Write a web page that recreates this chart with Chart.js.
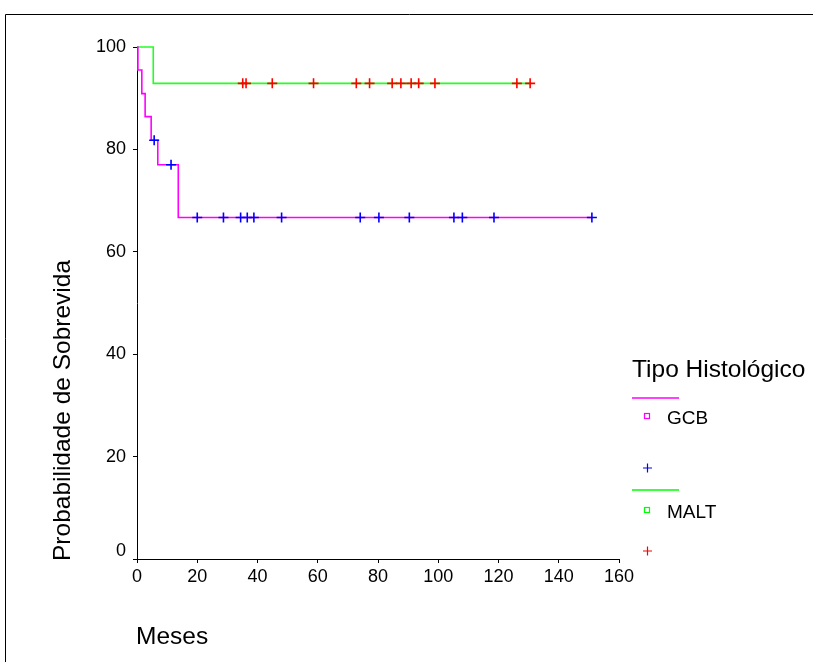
<!DOCTYPE html>
<html>
<head>
<meta charset="utf-8">
<script src="https://cdn.jsdelivr.net/npm/chart.js@4.4.1/dist/chart.umd.min.js"></script>
<style>
html,body{margin:0;padding:0;background:#fff;}
#wrap{position:relative;width:813px;height:662px;}
</style>
</head>
<body>
<div id="wrap"><canvas id="c" width="813" height="662"></canvas></div>
<script>
// Kaplan-Meier steps (time in months, survival %)
const gcbTimes = [0, 0.3, 1.6, 2.7, 4.7, 6.9, 13.7, 151.0];
const gcbSurv  = [100, 95.5, 90.9, 86.4, 81.8, 77.0, 66.7, 66.7];
const gcbCensTimes = [5.7, 11.3, 20.0, 28.7, 34.4, 36.6, 38.8, 48.0, 74.1, 80.3, 90.4, 105.2, 108.0, 118.5, 151.0];
const gcbCensSurv  = [81.8, 77.0, 66.7, 66.7, 66.7, 66.7, 66.7, 66.7, 66.7, 66.7, 66.7, 66.7, 66.7, 66.7, 66.7];

const maltTimes = [0, 5.4, 130.5];
const maltSurv  = [100, 92.9, 92.9];
const maltCensTimes = [35.1, 36.2, 44.9, 58.6, 72.8, 77.2, 84.7, 87.6, 91.0, 93.5, 98.9, 126.1, 130.5];
const maltCensSurv  = [92.9, 92.9, 92.9, 92.9, 92.9, 92.9, 92.9, 92.9, 92.9, 92.9, 92.9, 92.9, 92.9];

const xTicks = [0, 20, 40, 60, 80, 100, 120, 140, 160];
const yTicks = [0, 20, 40, 60, 80, 100];
const groups = ['GCB', 'MALT'];
const legendTitle = 'Tipo Histológico';
const xTitle = 'Meses';
const yTitle = 'Probabilidade de Sobrevida';

const pts = (t, s) => t.map((v, i) => ({x: v, y: s[i]}));
const FONT = '"Liberation Sans", Arial, sans-serif';

const decor = {
  id: 'decor',
  beforeDraw(chart) {
    const ctx = chart.ctx;
    ctx.save();
    ctx.fillStyle = '#fff';
    ctx.fillRect(0, 0, chart.width, chart.height);
    ctx.strokeStyle = '#000';
    ctx.lineWidth = 1;
    ctx.beginPath();
    ctx.moveTo(5.5, 700); ctx.lineTo(5.5, 14.5); ctx.lineTo(900, 14.5);
    ctx.stroke();
    ctx.restore();
  },
  afterDraw(chart) {
    const ctx = chart.ctx;
    const ys = chart.scales.y;
    ctx.save();
    ctx.fillStyle = '#000';
    // raised "0" label on y axis
    ctx.font = '18px ' + FONT;
    ctx.textAlign = 'right'; ctx.textBaseline = 'middle';
    ctx.fillText(String(yTicks[0]), 126, ys.getPixelForValue(yTicks[0]) - 8);
    // axis titles
    ctx.font = '24.5px ' + FONT;
    ctx.textAlign = 'left'; ctx.textBaseline = 'middle';
    ctx.fillText(xTitle, 136, 637);
    ctx.save();
    ctx.translate(63, 561);
    ctx.rotate(-Math.PI / 2);
    ctx.fillText(yTitle, 0, 0);
    ctx.restore();
    // legend
    ctx.font = '24.5px ' + FONT;
    ctx.fillText(legendTitle, 632, 370);
    const lcols = ['#FF00FF', '#00FF00'];
    const ccols = ['#0000FF', '#FF0000'];
    const yLine = [398, 490], ySq = [416, 510], yCr = [468, 551];
    for (let i = 0; i < 2; i++) {
      ctx.strokeStyle = lcols[i]; ctx.lineWidth = 1.5;
      ctx.beginPath(); ctx.moveTo(632, yLine[i]); ctx.lineTo(679, yLine[i]); ctx.stroke();
      ctx.lineWidth = 1.2;
      ctx.strokeRect(644.5, ySq[i] - 2.5, 5, 5);
      ctx.fillStyle = '#000';
      ctx.font = '19px ' + FONT;
      ctx.fillText(groups[i], 667, ySq[i] + 3);
      ctx.strokeStyle = ccols[i]; ctx.lineWidth = 1.2;
      ctx.beginPath();
      ctx.moveTo(643, yCr[i]); ctx.lineTo(652, yCr[i]);
      ctx.moveTo(647.5, yCr[i] - 4.5); ctx.lineTo(647.5, yCr[i] + 4.5);
      ctx.stroke();
    }
    ctx.restore();
  }
};

new Chart(document.getElementById('c'), {
  type: 'scatter',
  data: {
    datasets: [
      { label: groups[0], data: pts(gcbTimes, gcbSurv), showLine: true, stepped: true,
        borderColor: '#FF00FF', borderWidth: 1.6, pointRadius: 0, order: 2, clip: 6 },
      { label: groups[1], data: pts(maltTimes, maltSurv), showLine: true, stepped: true,
        borderColor: '#22FF22', borderWidth: 1.6, pointRadius: 0, order: 2, clip: 6 },
      { label: groups[0] + ' censurado', data: pts(gcbCensTimes, gcbCensSurv), showLine: false,
        pointStyle: 'cross', pointRadius: 5, borderColor: '#0000FF', borderWidth: 1.6, order: 0, clip: 6 },
      { label: groups[1] + ' censurado', data: pts(maltCensTimes, maltCensSurv), showLine: false,
        pointStyle: 'cross', pointRadius: 5, borderColor: '#FF0000', borderWidth: 1.6, order: 0, clip: 6 }
    ]
  },
  options: {
    responsive: false,
    animation: false,
    events: [],
    layout: { padding: { left: 0, top: 47, right: 194, bottom: 0 } },
    plugins: { legend: { display: false }, tooltip: { enabled: false } },
    scales: {
      x: {
        type: 'linear', min: 0, max: 160,
        afterBuildTicks: s => { s.ticks = xTicks.map(v => ({value: v})); },
        afterFit: s => { s.height = 103; },
        grid: { drawOnChartArea: false, drawTicks: true, tickLength: 4, color: '#000' },
        border: { color: '#000', width: 1 },
        ticks: { color: '#000', font: { family: FONT, size: 18 }, padding: 3, maxRotation: 0 }
      },
      y: {
        type: 'linear', min: 0, max: 100,
        afterBuildTicks: s => { s.ticks = yTicks.map(v => ({value: v})); },
        afterFit: s => { s.width = 137; },
        grid: { drawOnChartArea: false, drawTicks: true, tickLength: 4, color: '#000' },
        border: { color: '#000', width: 1 },
        ticks: { color: '#000', font: { family: FONT, size: 18 }, padding: 7,
                 callback: v => (v === yTicks[0] ? '' : String(v)) }
      }
    }
  },
  plugins: [decor]
});
</script>
</body>
</html>
